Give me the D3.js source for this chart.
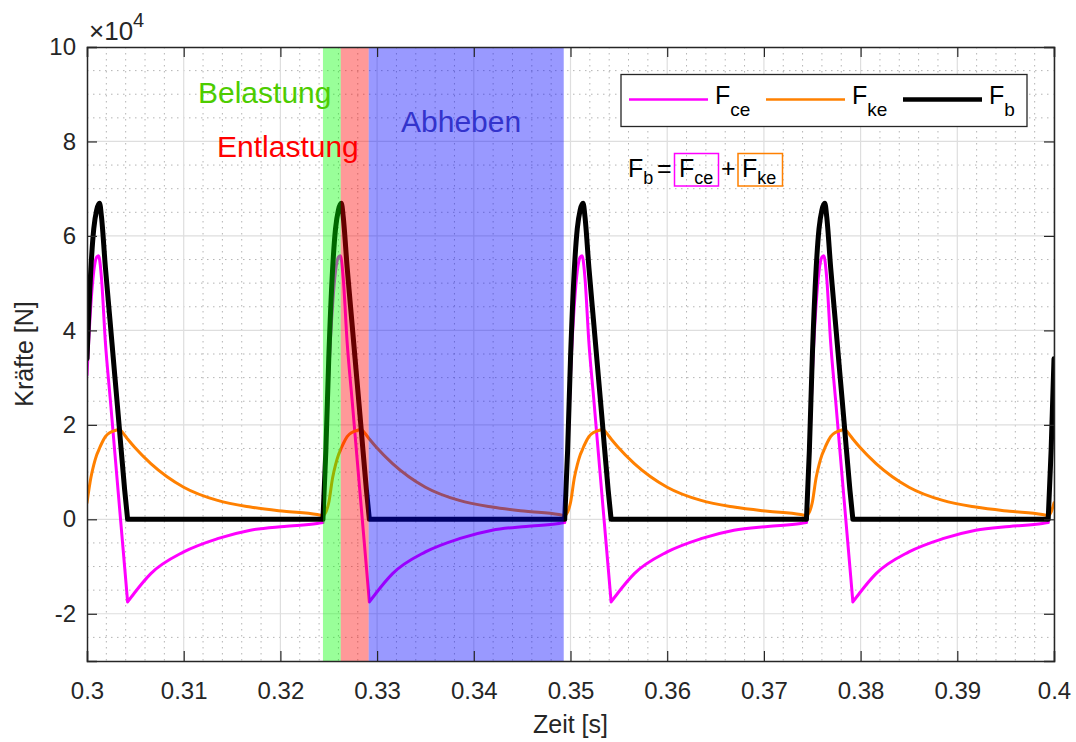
<!DOCTYPE html>
<html>
<head>
<meta charset="utf-8">
<script src="https://cdn.jsdelivr.net/npm/d3@7"></script>
<style>
  body { margin: 0; background: #fff; }
  text { font-family: "Liberation Sans", Arial, Helvetica, sans-serif; }
</style>
</head>
<body>
<div id="chart"></div>
<script>
// values in 10^4 N, time in s
var cycleStarts = [0.2994, 0.3244, 0.3494, 0.3744, 0.3994];
var cyclePeriod = 0.025;
var cycleOffset = [0, 0.0003, 0.0006, 0.001, 0.0013, 0.0016, 0.0018, 0.0019, 0.0021, 0.0025, 0.003,
                   0.0035, 0.0039, 0.0045, 0.0048, 0.0055, 0.0072, 0.0106, 0.0141, 0.0175, 0.021, 0.0244];
var liftOffIndex = 14; // offset 0.0048, foot leaves the ground
var fceCycle = [-0.07, 1.3, 3.05, 4.55, 5.25, 5.55, 5.58, 5.5, 5.1, 3.75, 2.56,
                1.36, 0.4, -1.03, -1.75, -1.56, -1.15, -0.69, -0.41, -0.23, -0.15, -0.09];
var fkeCycle = [0.07, 0.15, 0.35, 0.88, 1.15, 1.36, 1.46, 1.51, 1.6, 1.75, 1.84,
                1.88, 1.9, 1.78, 1.7, 1.53, 1.18, 0.68, 0.4, 0.26, 0.17, 0.1];
var fbCycle  = [0, 1.45, 3.4, 5.3, 6.15, 6.55, 6.67, 6.69, 6.4, 5.34, 4.16,
                2.98, 2.04, 0.61, 0, 0, 0, 0, 0, 0, 0, 0];

var phaseNames = ["Belastung", "Entlastung", "Abheben"];
var phaseStart = [0.3244, 0.32624, 0.32913];
var phaseEnd   = [0.32624, 0.32913, 0.3493];
var phaseFill  = ["#00ff00", "#ff0000", "#0000ff"];
var phaseText  = ["#4dcc00", "#ff0000", "#3333cc"];

var xTicks = [0.3, 0.31, 0.32, 0.33, 0.34, 0.35, 0.36, 0.37, 0.38, 0.39, 0.4];
var yTicks = [-2, 0, 2, 4, 6, 8, 10];

var W = 1076, H = 742;
var L = 87, R = 1054, T = 47, B = 661;
var axCol = "#262626";

var x = d3.scaleLinear().domain([0.3, 0.4]).range([L, R]);
var y = d3.scaleLinear().domain([-3, 10]).range([B, T]);

var svg = d3.select("#chart").append("svg")
  .attr("width", W).attr("height", H);

svg.append("defs").append("clipPath").attr("id", "clip")
  .append("rect").attr("x", L).attr("y", T).attr("width", R - L).attr("height", B - T);

var plot = svg.append("g").attr("clip-path", "url(#clip)");

// minor grid (dotted)
var xMinor = d3.range(0.302, 0.4, 0.002).filter(function(v) { return Math.abs(v * 100 - Math.round(v * 100)) > 1e-6; });
var yMinor = d3.range(-2.5, 10, 0.5).filter(function(v) { return v % 2 != 0; });
plot.selectAll(".xminor").data(xMinor).enter().append("line")
  .attr("x1", d => x(d)).attr("x2", d => x(d)).attr("y1", T).attr("y2", B)
  .attr("stroke", "#b4b4b4").attr("stroke-width", 1).attr("stroke-dasharray", "1.5,4.5");
plot.selectAll(".yminor").data(yMinor).enter().append("line")
  .attr("y1", d => y(d)).attr("y2", d => y(d)).attr("x1", L).attr("x2", R)
  .attr("stroke", "#b4b4b4").attr("stroke-width", 1).attr("stroke-dasharray", "1.5,4.5");

// major grid
plot.selectAll(".xgrid").data(xTicks).enter().append("line")
  .attr("x1", d => x(d)).attr("x2", d => x(d)).attr("y1", T).attr("y2", B)
  .attr("stroke", "#dedede").attr("stroke-width", 1.2);
plot.selectAll(".ygrid").data(yTicks).enter().append("line")
  .attr("y1", d => y(d)).attr("y2", d => y(d)).attr("x1", L).attr("x2", R)
  .attr("stroke", "#dedede").attr("stroke-width", 1.2);

// contact part and flight part of every cycle as separate pieces,
// so the corners at touch-down and lift-off stay sharp
function buildSegments(vals) {
  var segs = [];
  cycleStarts.forEach(function(s) {
    var contact = [], flight = [];
    cycleOffset.forEach(function(o, i) {
      if (i <= liftOffIndex) contact.push([s + o, vals[i]]);
      if (i >= liftOffIndex) flight.push([s + o, vals[i]]);
    });
    flight.push([s + cyclePeriod, vals[0]]);
    [contact, flight].forEach(function(seg) {
      var inside = seg.filter(p => p[0] >= 0.3 - 1e-9 && p[0] <= 0.4 + 1e-9);
      if (inside.length > 1) segs.push(inside);
    });
  });
  return segs;
}

var line = d3.line().x(d => x(d[0])).y(d => y(d[1])).curve(d3.curveMonotoneX);

var series = [
  { name: "ce", segs: buildSegments(fceCycle), color: "#ff00ff", w: 3 },
  { name: "ke", segs: buildSegments(fkeCycle), color: "#ff8000", w: 3 },
  { name: "b",  segs: buildSegments(fbCycle),  color: "#000000", w: 5 }
];

series.forEach(function(s) {
  plot.append("path")
    .attr("d", s.segs.map(seg => line(seg)).join(""))
    .attr("fill", "none")
    .attr("stroke", s.color)
    .attr("stroke-width", s.w)
    .attr("stroke-linejoin", "round")
    .attr("stroke-linecap", "round");
});

// phase bands (drawn over the lines, like the original)
plot.selectAll(".band").data(phaseStart).enter().append("rect")
  .attr("x", d => x(d))
  .attr("width", (d, i) => x(phaseEnd[i]) - x(d))
  .attr("y", T).attr("height", B - T)
  .attr("fill", (d, i) => phaseFill[i])
  .attr("fill-opacity", 0.4);

// axes
var xAxis = svg.append("g").attr("transform", "translate(0," + B + ")")
  .call(d3.axisBottom(x).tickValues(xTicks).tickSize(-10).tickPadding(21)
    .tickFormat(d => String(+d.toFixed(2))));
var xAxisTop = svg.append("g").attr("transform", "translate(0," + T + ")")
  .call(d3.axisTop(x).tickValues(xTicks).tickSize(-10).tickFormat(""));
var yAxis = svg.append("g").attr("transform", "translate(" + L + ",0)")
  .call(d3.axisLeft(y).tickValues(yTicks).tickSize(-10).tickPadding(11).tickFormat(d => String(d)));
var yAxisRight = svg.append("g").attr("transform", "translate(" + R + ",0)")
  .call(d3.axisRight(y).tickValues(yTicks).tickSize(-10).tickFormat(""));

[xAxis, xAxisTop, yAxis, yAxisRight].forEach(function(a) {
  a.select(".domain").attr("stroke", axCol).attr("stroke-width", 1.5);
  a.selectAll(".tick line").attr("stroke", axCol).attr("stroke-width", 1.2);
  a.selectAll("text").attr("fill", axCol).style("font-size", "24px")
    .style("font-family", '"Liberation Sans", Arial, sans-serif');
});

// exponent label
var expo = svg.append("text").attr("x", 89).attr("y", 40).attr("fill", axCol).style("font-size", "26px");
expo.append("tspan").text("\u00d710");
expo.append("tspan").attr("dy", -13).style("font-size", "20px").text("4");

// axis titles
svg.append("text").attr("x", (L + R) / 2).attr("y", 733).attr("text-anchor", "middle")
  .attr("fill", axCol).style("font-size", "25px").text("Zeit [s]");
svg.append("text").attr("transform", "translate(33," + ((T + B) / 2) + ") rotate(-90)")
  .attr("text-anchor", "middle").attr("fill", axCol).style("font-size", "25px").text("Kräfte [N]");

// phase labels
var phaseLabelPos = [[198, 103], [217, 157], [401, 132]];
svg.selectAll(".plabel").data(phaseNames).enter().append("text")
  .attr("x", (d, i) => phaseLabelPos[i][0]).attr("y", (d, i) => phaseLabelPos[i][1])
  .attr("fill", (d, i) => phaseText[i])
  .style("font-size", "30px")
  .text(d => d);

// legend
var lg = svg.append("g");
lg.append("rect").attr("x", 621).attr("y", 74.5).attr("width", 406).attr("height", 52)
  .attr("fill", "#fff").attr("stroke", axCol).attr("stroke-width", 1.3);
var legX = [629, 766, 903];
var legW = [2.5, 2.5, 4.5];
series.forEach(function(s, i) {
  lg.append("line").attr("x1", legX[i]).attr("x2", legX[i] + 79)
    .attr("y1", 99.5).attr("y2", 99.5)
    .attr("stroke", s.color).attr("stroke-width", legW[i]);
  var t = lg.append("text").attr("x", legX[i] + 86).attr("y", 104).attr("fill", "#000").style("font-size", "25px");
  t.append("tspan").text("F");
  t.append("tspan").attr("dy", 12).style("font-size", "19px").text(s.name);
});

// equation F_b = F_ce + F_ke
var eq = svg.append("g");
function subText(xp, sub) {
  var t = eq.append("text").attr("x", xp).attr("y", 177).attr("fill", "#000").style("font-size", "25px");
  t.append("tspan").text("F");
  t.append("tspan").attr("dy", 7).style("font-size", "18px").text(sub);
}
subText(628, "b");
eq.append("text").attr("x", 657).attr("y", 177).style("font-size", "25px").text("=");
subText(679, "ce");
eq.append("text").attr("x", 721).attr("y", 177).style("font-size", "25px").text("+");
subText(742, "ke");
var boxX = [674.5, 738];
var boxW = [44, 44.5];
eq.selectAll(".eqbox").data([0, 1]).enter().append("rect")
  .attr("x", d => boxX[d]).attr("y", 153.5).attr("width", d => boxW[d]).attr("height", 32.5)
  .attr("fill", "none").attr("stroke", (d) => series[d].color).attr("stroke-width", 1.5);
</script>
</body>
</html>
